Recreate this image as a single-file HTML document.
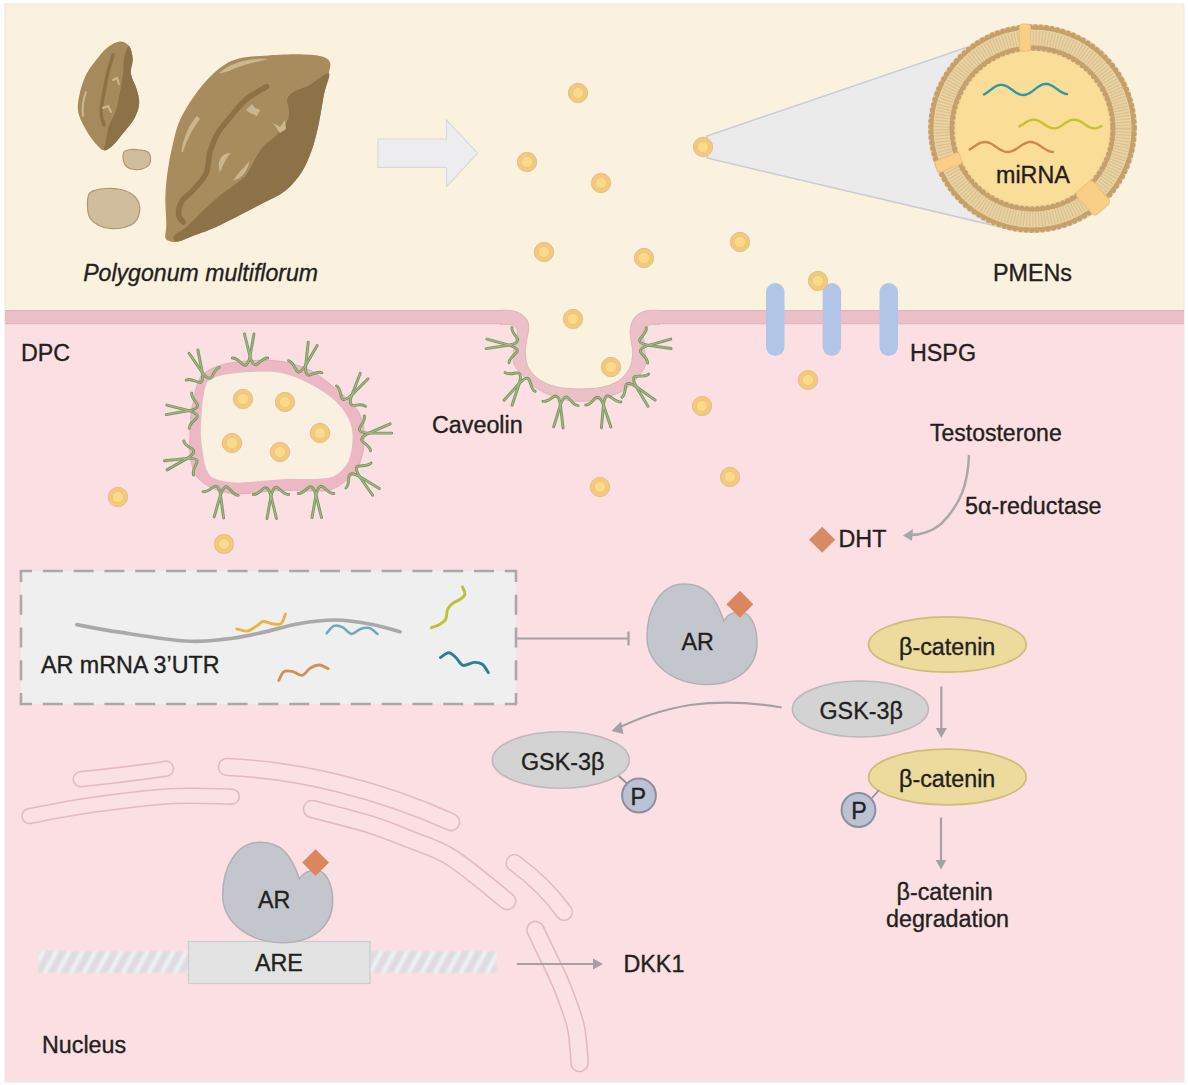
<!DOCTYPE html>
<html><head><meta charset="utf-8"><style>
html,body{margin:0;padding:0;background:#fff;}
svg{display:block;font-family:"Liberation Sans",sans-serif;}
text{stroke:#231F20;stroke-width:0.35px;}
</style></head><body>
<svg width="1188" height="1085" viewBox="0 0 1188 1085">
<rect x="0" y="0" width="1188" height="1085" fill="#ffffff"/>
<rect x="5" y="4" width="1179" height="314" fill="#FAF1DF"/>
<rect x="5" y="317" width="1179" height="765" fill="#FCDFE3"/>
<rect x="5" y="4" width="1179" height="1078" fill="none" stroke="#EDE6E3" stroke-width="1"/>
<path d="M171.1 241.5 C169.1 240.9 166.2 240.5 165.4 237.7 C164.6 234.9 166.3 231.4 166.3 224.5 C166.3 217.6 165.1 205.6 165.4 196.2 C165.7 186.8 166.6 177.9 168.2 167.8 C169.8 157.7 172.6 144.2 174.8 135.7 C177.0 127.2 178.5 123.1 181.5 116.8 C184.5 110.5 188.4 104.2 192.8 97.9 C197.2 91.6 202.9 84.3 207.9 79.0 C212.9 73.7 217.7 69.3 223.0 65.8 C228.3 62.3 232.4 59.9 240.0 58.2 C247.6 56.5 258.0 56.0 268.4 55.4 C278.8 54.8 293.6 54.2 302.4 54.4 C311.2 54.5 316.7 55.0 321.3 56.3 C325.9 57.6 328.6 59.2 329.8 62.0 C331.1 64.8 329.8 68.0 328.8 73.3 C327.9 78.6 325.8 85.6 324.1 94.1 C322.4 102.6 320.7 115.0 318.6 124.4 C316.5 133.9 314.4 142.8 311.5 150.8 C308.6 158.8 305.9 165.8 301.5 172.5 C297.1 179.2 291.4 185.9 285.0 191.0 C278.6 196.1 270.5 199.0 263.0 203.0 C255.5 207.0 247.6 211.2 240.0 215.1 C232.4 219.0 225.3 222.9 217.4 226.4 C209.5 229.9 199.4 233.4 192.8 235.9 C186.2 238.4 181.3 240.6 177.7 241.5 C174.1 242.4 173.1 242.1 171.1 241.5 Z" fill="#A98C5E"/>
<path d="M328.8 73.3 C326.4 71.7 316.0 81.5 310.0 84.7 C304.0 87.9 296.8 89.7 293.0 92.2 C289.2 94.7 287.9 96.3 287.3 99.8 C286.7 103.3 289.5 108.9 289.2 113.0 C288.9 117.1 287.9 120.3 285.4 124.4 C282.9 128.5 277.8 133.8 274.0 137.6 C270.2 141.4 266.1 142.9 262.7 147.0 C259.2 151.1 256.1 157.5 253.3 162.2 C250.5 166.9 248.8 171.6 245.7 175.4 C242.5 179.2 238.8 181.3 234.4 184.8 C230.0 188.3 224.6 191.8 219.2 196.2 C213.8 200.6 207.5 206.3 202.2 211.3 C196.8 216.3 191.8 222.3 187.1 226.4 C182.4 230.5 175.5 233.4 173.9 235.9 C172.3 238.4 174.5 241.5 177.7 241.5 C180.8 241.5 186.2 238.4 192.8 235.9 C199.4 233.4 209.5 229.9 217.4 226.4 C225.3 222.9 232.4 219.0 240.0 215.1 C247.6 211.2 255.5 207.0 263.0 203.0 C270.5 199.0 278.6 196.1 285.0 191.0 C291.4 185.9 297.1 179.2 301.5 172.5 C305.9 165.8 308.6 158.8 311.5 150.8 C314.4 142.8 316.5 133.9 318.6 124.4 C320.7 115.0 322.4 102.6 324.1 94.1 C325.8 85.6 331.2 74.9 328.8 73.3 Z" fill="#8E7247"/>
<path d="M266.5 86.6 C263.0 88.8 251.7 94.8 245.7 99.8 C239.7 104.8 235.3 111.1 230.6 116.8 C225.9 122.5 220.9 127.8 217.4 133.8 C213.9 139.8 211.7 146.1 209.8 152.7 C207.9 159.3 208.8 167.2 206.0 173.5 C203.2 179.8 196.9 185.8 192.8 190.5 C188.7 195.2 183.9 197.7 181.5 201.8 C179.1 205.9 178.3 211.7 178.6 215.1 C178.9 218.5 182.5 220.8 183.3 222.0" fill="none" stroke="#8E7247" stroke-width="5.5" stroke-linecap="round"/>
<path d="M219 73 C232 62 250 58 268 59 C258 62 245 64 236 68 C229 71 224 73 219 73 Z" fill="#CBB68F"/>
<path d="M197 117 C190 125 184 138 182 152 C186 140 192 128 199 119 Z" fill="#CBB68F" stroke="#CBB68F" stroke-width="1.5"/>
<path d="M246 110 L252 104 L255 108 L260 110 L257 116 L250 113 Z" fill="#CBB68F"/>
<path d="M273 123 L280 127 L285 120 L286 129 L280 133 Z" fill="#CBB68F"/>
<path d="M220 170 C218 162 222 154 229 154 C225 158 223 164 220 170 Z" fill="#CBB68F" stroke="#CBB68F" stroke-width="1.5"/>
<path d="M235 179 C240 172 244 168 248 164 C246 171 242 177 235 179 Z" fill="#CBB68F" stroke="#CBB68F" stroke-width="1.5"/>
<path d="M119.8 41.5 C123.5 41.2 126.8 43.2 129.0 46.1 C131.2 49.0 132.4 54.4 132.7 59.0 C133.0 63.6 130.3 68.8 130.9 73.7 C131.5 78.6 135.0 83.6 136.4 88.5 C137.8 93.4 139.5 98.3 139.2 103.2 C138.9 108.1 137.2 113.1 134.6 118.0 C132.0 122.9 127.2 128.1 123.5 132.7 C119.8 137.3 115.6 142.8 112.4 145.7 C109.2 148.6 106.5 150.3 104.1 150.3 C101.6 150.3 100.6 148.9 97.7 145.7 C94.8 142.5 89.8 136.4 86.6 130.9 C83.4 125.4 79.5 118.3 78.3 112.5 C77.1 106.7 78.1 101.8 79.2 95.9 C80.3 90.1 82.3 82.9 84.8 77.4 C87.3 71.9 90.3 67.6 94.0 62.7 C97.7 57.8 102.6 51.4 106.9 47.9 C111.2 44.4 116.1 41.8 119.8 41.5 Z" fill="#A68A5C"/>
<path d="M129.0 46.1 C130.4 46.3 132.4 54.4 132.7 59.0 C133.0 63.6 130.3 68.8 130.9 73.7 C131.5 78.6 135.0 83.6 136.4 88.5 C137.8 93.4 139.5 98.3 139.2 103.2 C138.9 108.1 137.2 113.1 134.6 118.0 C132.0 122.9 127.2 128.1 123.5 132.7 C119.8 137.3 115.6 142.8 112.4 145.7 C109.2 148.6 105.2 151.2 104.1 150.3 C103.0 149.4 105.2 144.1 106.0 140.0 C106.8 135.9 107.3 131.0 109.0 126.0 C110.7 121.0 114.2 115.7 116.0 110.0 C117.8 104.3 118.8 98.0 120.0 92.0 C121.2 86.0 122.3 79.7 123.0 74.0 C123.7 68.3 123.0 62.6 124.0 58.0 C125.0 53.4 127.5 45.9 129.0 46.1 Z" fill="#8E7247"/>
<path d="M113.0 55.0 C112.2 57.8 109.5 65.8 108.0 72.0 C106.5 78.2 105.2 85.3 104.0 92.0 C102.8 98.7 101.0 106.5 101.0 112.0 C101.0 117.5 103.5 122.8 104.0 125.0" fill="none" stroke="#8E7247" stroke-width="3.5" stroke-linecap="round"/>
<path d="M86 92 C83 100 82 108 83 116" fill="none" stroke="#CBB68F" stroke-width="2" stroke-linecap="round"/>
<path d="M113 80 L117 78 L119 84 M103 108 L108 106 L111 112" fill="none" stroke="#CBB68F" stroke-width="2" stroke-linecap="round"/>
<path d="M124.0 152.0 C125.2 150.1 128.3 149.8 131.0 149.5 C133.7 149.2 137.2 149.6 140.0 150.0 C142.8 150.4 146.2 150.7 148.0 152.0 C149.8 153.3 150.3 155.8 150.5 158.0 C150.7 160.2 150.4 163.2 149.0 165.0 C147.6 166.8 144.5 168.2 142.0 169.0 C139.5 169.8 136.5 169.8 134.0 169.5 C131.5 169.2 128.8 168.4 127.0 167.0 C125.2 165.6 124.0 163.5 123.5 161.0 C123.0 158.5 122.8 153.9 124.0 152.0 Z" fill="#CFBD9C" stroke="#AE9774" stroke-width="1.2"/>
<path d="M89.0 194.0 C90.4 191.2 93.2 190.9 96.0 190.0 C98.8 189.1 102.3 188.7 106.0 188.5 C109.7 188.3 114.0 188.2 118.0 189.0 C122.0 189.8 126.7 191.0 130.0 193.0 C133.3 195.0 136.4 197.8 138.0 201.0 C139.6 204.2 140.0 208.5 139.5 212.0 C139.0 215.5 137.6 219.4 135.0 222.0 C132.4 224.6 128.2 226.4 124.0 227.5 C119.8 228.6 114.3 228.9 110.0 228.5 C105.7 228.1 101.3 226.8 98.0 225.0 C94.7 223.2 91.8 221.0 90.0 218.0 C88.2 215.0 87.7 211.0 87.5 207.0 C87.3 203.0 87.6 196.8 89.0 194.0 Z" fill="#CFBD9C" stroke="#AE9774" stroke-width="1.2"/>
<path d="M378 139 H446.5 V120 L477.7 153.2 L446.5 186.5 V167.4 H378 Z" fill="#EDEDEF" stroke="#D9D9DA" stroke-width="1.2"/>
<path d="M707 136 L1000 36 L1020 231.6 L707 158 Z" fill="#ECEBEC" stroke="#C9CCD6" stroke-width="1.5"/>
<circle cx="1032.5" cy="128.5" r="104.5" fill="#E9D2A3"/>
<circle cx="1032.5" cy="128.5" r="90.5" fill="none" stroke="#DCC08E" stroke-width="15" stroke-dasharray="1.2 1.8"/>
<circle cx="1032.5" cy="128.5" r="100.8" fill="none" stroke="#C8A36C" stroke-width="3.5"/>
<circle cx="1032.5" cy="128.5" r="101.8" fill="none" stroke="#C6A06A" stroke-width="5.2" stroke-dasharray="0 5.54" stroke-linecap="round"/>
<circle cx="1032.5" cy="128.5" r="81.2" fill="none" stroke="#C8A36C" stroke-width="3.5"/>
<circle cx="1032.5" cy="128.5" r="80.3" fill="none" stroke="#C6A06A" stroke-width="5.2" stroke-dasharray="0 5.26" stroke-linecap="round"/>
<circle cx="1032.5" cy="128.5" r="77.3" fill="#FADD97"/>
<rect x="1019.5" y="24" width="11" height="27" rx="3" fill="#F9CF88" stroke="#EEC07A" stroke-width="1"/>
<g transform="translate(948.5 162.5) rotate(-22)"><rect x="-13" y="-6" width="26" height="12" rx="3" fill="#F9CF88" stroke="#EEC07A" stroke-width="1"/></g>
<g transform="translate(1093 198) rotate(49)"><rect x="-15" y="-11" width="30" height="22" rx="4" fill="#F9CF88" stroke="#EEC07A" stroke-width="1"/></g>
<path d="M983.9 94.5 L985.6 93.5 L987.2 92.4 L988.9 91.2 L990.5 89.9 L992.2 88.7 L993.9 87.5 L995.5 86.5 L997.2 85.7 L998.9 85.2 L1000.5 84.9 L1002.2 84.9 L1003.8 85.2 L1005.5 85.8 L1007.2 86.5 L1008.8 87.5 L1010.5 88.7 L1012.2 89.8 L1013.8 91.0 L1015.5 92.2 L1017.1 93.2 L1018.8 94.0 L1020.5 94.6 L1022.1 94.9 L1023.8 95.0 L1025.5 94.8 L1027.1 94.2 L1028.8 93.5 L1030.4 92.5 L1032.1 91.4 L1033.8 90.1 L1035.4 88.9 L1037.1 87.6 L1038.7 86.5 L1040.4 85.5 L1042.1 84.7 L1043.7 84.2 L1045.4 84.0 L1047.1 84.0 L1048.7 84.3 L1050.4 84.9 L1052.0 85.7 L1053.7 86.8 L1055.4 87.9 L1057.0 89.1 L1058.7 90.3 L1060.4 91.4 L1062.0 92.4 L1063.7 93.2 L1065.3 93.8 L1067.0 94.1" fill="none" stroke="#2E97A8" stroke-width="2.4" stroke-linecap="round" stroke-linejoin="round"/>
<path d="M1019.4 126.6 L1021.0 125.6 L1022.7 124.5 L1024.3 123.4 L1026.0 122.3 L1027.6 121.4 L1029.3 120.6 L1030.9 120.0 L1032.5 119.7 L1034.2 119.6 L1035.8 119.9 L1037.5 120.4 L1039.1 121.1 L1040.7 122.0 L1042.4 123.1 L1044.0 124.2 L1045.7 125.3 L1047.3 126.3 L1049.0 127.2 L1050.6 127.8 L1052.2 128.3 L1053.9 128.4 L1055.5 128.3 L1057.2 127.8 L1058.8 127.2 L1060.5 126.3 L1062.1 125.3 L1063.7 124.2 L1065.4 123.1 L1067.0 122.0 L1068.7 121.1 L1070.3 120.4 L1071.9 119.9 L1073.6 119.6 L1075.2 119.7 L1076.9 120.0 L1078.5 120.5 L1080.2 121.3 L1081.8 122.3 L1083.4 123.4 L1085.1 124.5 L1086.7 125.6 L1088.4 126.6 L1090.0 127.4 L1091.6 128.0 L1093.3 128.3 L1094.9 128.4 L1096.6 128.2 L1098.2 127.7 L1099.9 127.0 L1101.5 126.1" fill="none" stroke="#C5C32F" stroke-width="2.4" stroke-linecap="round" stroke-linejoin="round"/>
<path d="M969.7 149.5 L971.4 148.5 L973.0 147.3 L974.7 146.2 L976.4 145.1 L978.0 144.1 L979.7 143.2 L981.3 142.6 L983.0 142.2 L984.7 142.0 L986.3 142.1 L988.0 142.5 L989.7 143.0 L991.3 143.8 L993.0 144.8 L994.7 145.9 L996.3 147.0 L998.0 148.2 L999.7 149.2 L1001.3 150.2 L1003.0 151.0 L1004.6 151.6 L1006.3 151.9 L1008.0 152.0 L1009.6 151.8 L1011.3 151.4 L1013.0 150.7 L1014.6 149.9 L1016.3 148.9 L1018.0 147.8 L1019.6 146.6 L1021.3 145.5 L1022.9 144.5 L1024.6 143.6 L1026.3 142.8 L1027.9 142.3 L1029.6 142.0 L1031.3 142.0 L1032.9 142.3 L1034.6 142.8 L1036.3 143.5 L1037.9 144.4 L1039.6 145.4 L1041.3 146.6 L1042.9 147.7 L1044.6 148.8 L1046.2 149.8 L1047.9 150.7 L1049.6 151.4 L1051.2 151.8 L1052.9 152.0" fill="none" stroke="#D08848" stroke-width="2.4" stroke-linecap="round" stroke-linejoin="round"/>
<text x="996" y="183" font-size="23.3" fill="#231F20">miRNA</text>
<circle cx="578" cy="93" r="9.7" fill="#F3C980" stroke="#E3C08A" stroke-width="1"/><circle cx="578" cy="93" r="5.6" fill="#FBDA8A" stroke="#EFC575" stroke-width="0.9"/>
<circle cx="527" cy="162" r="9.7" fill="#F3C980" stroke="#E3C08A" stroke-width="1"/><circle cx="527" cy="162" r="5.6" fill="#FBDA8A" stroke="#EFC575" stroke-width="0.9"/>
<circle cx="601" cy="183" r="9.7" fill="#F3C980" stroke="#E3C08A" stroke-width="1"/><circle cx="601" cy="183" r="5.6" fill="#FBDA8A" stroke="#EFC575" stroke-width="0.9"/>
<circle cx="703" cy="147" r="9.7" fill="#F3C980" stroke="#E3C08A" stroke-width="1"/><circle cx="703" cy="147" r="5.6" fill="#FBDA8A" stroke="#EFC575" stroke-width="0.9"/>
<circle cx="544" cy="252" r="9.7" fill="#F3C980" stroke="#E3C08A" stroke-width="1"/><circle cx="544" cy="252" r="5.6" fill="#FBDA8A" stroke="#EFC575" stroke-width="0.9"/>
<circle cx="644" cy="258" r="9.7" fill="#F3C980" stroke="#E3C08A" stroke-width="1"/><circle cx="644" cy="258" r="5.6" fill="#FBDA8A" stroke="#EFC575" stroke-width="0.9"/>
<circle cx="740" cy="242" r="9.7" fill="#F3C980" stroke="#E3C08A" stroke-width="1"/><circle cx="740" cy="242" r="5.6" fill="#FBDA8A" stroke="#EFC575" stroke-width="0.9"/>
<text x="83.2" y="281" font-size="23.1" font-style="italic" fill="#231F20">Polygonum multiflorum</text>
<text x="993" y="280.5" font-size="23.3" fill="#231F20">PMENs</text>
<path d="M500.0 310.3 C501.8 310.4 507.5 310.0 511.0 310.6 C514.5 311.2 518.2 312.3 521.0 314.0 C523.8 315.7 526.2 318.3 527.5 321.0 C528.8 323.7 528.7 326.7 528.5 330.0 C528.3 333.3 527.0 337.0 526.5 341.0 C526.0 345.0 525.2 349.6 525.5 354.0 C525.8 358.4 526.0 363.1 528.3 367.3 C530.5 371.6 534.3 376.2 539.0 379.5 C543.7 382.8 550.1 385.3 556.6 386.9 C563.1 388.5 570.6 388.8 578.0 388.9 C585.4 389.0 594.2 388.9 601.0 387.5 C607.8 386.1 613.8 383.9 618.5 380.8 C623.2 377.7 626.9 373.2 629.3 368.7 C631.7 364.2 632.4 358.5 632.7 353.9 C633.0 349.3 631.6 344.8 631.2 341.0 C630.8 337.2 630.0 334.3 630.2 331.0 C630.4 327.7 631.1 323.8 632.5 321.0 C633.9 318.2 635.9 315.7 638.5 314.0 C641.1 312.3 644.4 311.2 648.0 310.6 C651.6 310.0 658.0 310.4 660.0 310.3 L660 305 L500 305 Z" fill="#FAF1DF"/>
<path d="M5 317 H502 M658 317 H1184" fill="none" stroke="#EBC0C7" stroke-width="14"/>
<path d="M500.0 310.3 C501.8 310.4 507.5 310.0 511.0 310.6 C514.5 311.2 518.2 312.3 521.0 314.0 C523.8 315.7 526.2 318.3 527.5 321.0 C528.8 323.7 528.7 326.7 528.5 330.0 C528.3 333.3 527.0 337.0 526.5 341.0 C526.0 345.0 525.2 349.6 525.5 354.0 C525.8 358.4 526.0 363.1 528.3 367.3 C530.5 371.6 534.3 376.2 539.0 379.5 C543.7 382.8 550.1 385.3 556.6 386.9 C563.1 388.5 570.6 388.8 578.0 388.9 C585.4 389.0 594.2 388.9 601.0 387.5 C607.8 386.1 613.8 383.9 618.5 380.8 C623.2 377.7 626.9 373.2 629.3 368.7 C631.7 364.2 632.4 358.5 632.7 353.9 C633.0 349.3 631.6 344.8 631.2 341.0 C630.8 337.2 630.0 334.3 630.2 331.0 C630.4 327.7 631.1 323.8 632.5 321.0 C633.9 318.2 635.9 315.7 638.5 314.0 C641.1 312.3 644.4 311.2 648.0 310.6 C651.6 310.0 658.0 310.4 660.0 310.3 L660.0 324.3 C658.2 324.4 651.8 323.9 649.0 325.0 C646.2 326.1 644.2 327.3 643.5 331.0 C642.8 334.7 644.2 341.5 644.5 347.1 C644.8 352.7 646.9 359.2 645.5 364.6 C644.1 370.0 640.0 375.0 636.0 379.5 C632.0 384.0 626.8 388.5 621.2 391.6 C615.6 394.7 609.1 396.7 602.4 398.3 C595.7 399.9 588.0 401.5 580.8 401.5 C573.6 401.5 566.5 400.4 559.3 398.3 C552.1 396.2 543.8 392.7 537.7 388.9 C531.6 385.1 526.8 379.4 522.9 375.4 C519.0 371.3 515.9 368.2 514.3 364.6 C512.7 361.0 513.0 357.9 513.2 353.9 C513.4 349.9 514.8 344.2 515.5 340.4 C516.2 336.6 518.0 333.6 517.5 331.0 C517.0 328.4 515.7 326.1 512.8 325.0 C509.9 323.9 502.1 324.4 500.0 324.3 Z" fill="#EBC0C7"/>
<path d="M5 310.6 H502 M658 310.6 H1184 M5 323.6 H502 M658 323.6 H1184" fill="none" stroke="#E0B6BB" stroke-width="1.1"/>
<path d="M500.0 310.3 C501.8 310.4 507.5 310.0 511.0 310.6 C514.5 311.2 518.2 312.3 521.0 314.0 C523.8 315.7 526.2 318.3 527.5 321.0 C528.8 323.7 528.7 326.7 528.5 330.0 C528.3 333.3 527.0 337.0 526.5 341.0 C526.0 345.0 525.2 349.6 525.5 354.0 C525.8 358.4 526.0 363.1 528.3 367.3 C530.5 371.6 534.3 376.2 539.0 379.5 C543.7 382.8 550.1 385.3 556.6 386.9 C563.1 388.5 570.6 388.8 578.0 388.9 C585.4 389.0 594.2 388.9 601.0 387.5 C607.8 386.1 613.8 383.9 618.5 380.8 C623.2 377.7 626.9 373.2 629.3 368.7 C631.7 364.2 632.4 358.5 632.7 353.9 C633.0 349.3 631.6 344.8 631.2 341.0 C630.8 337.2 630.0 334.3 630.2 331.0 C630.4 327.7 631.1 323.8 632.5 321.0 C633.9 318.2 635.9 315.7 638.5 314.0 C641.1 312.3 644.4 311.2 648.0 310.6 C651.6 310.0 658.0 310.4 660.0 310.3" fill="none" stroke="#E0B6BB" stroke-width="1"/><path d="M660.0 324.3 C658.2 324.4 651.8 323.9 649.0 325.0 C646.2 326.1 644.2 327.3 643.5 331.0 C642.8 334.7 644.2 341.5 644.5 347.1 C644.8 352.7 646.9 359.2 645.5 364.6 C644.1 370.0 640.0 375.0 636.0 379.5 C632.0 384.0 626.8 388.5 621.2 391.6 C615.6 394.7 609.1 396.7 602.4 398.3 C595.7 399.9 588.0 401.5 580.8 401.5 C573.6 401.5 566.5 400.4 559.3 398.3 C552.1 396.2 543.8 392.7 537.7 388.9 C531.6 385.1 526.8 379.4 522.9 375.4 C519.0 371.3 515.9 368.2 514.3 364.6 C512.7 361.0 513.0 357.9 513.2 353.9 C513.4 349.9 514.8 344.2 515.5 340.4 C516.2 336.6 518.0 333.6 517.5 331.0 C517.0 328.4 515.7 326.1 512.8 325.0 C509.9 323.9 502.1 324.4 500.0 324.3" fill="none" stroke="#E2B4BC" stroke-width="1"/>
<circle cx="573" cy="319" r="9.7" fill="#F3C980" stroke="#E3C08A" stroke-width="1"/><circle cx="573" cy="319" r="5.6" fill="#FBDA8A" stroke="#EFC575" stroke-width="0.9"/>
<circle cx="611" cy="367" r="9.7" fill="#F3C980" stroke="#E3C08A" stroke-width="1"/><circle cx="611" cy="367" r="5.6" fill="#FBDA8A" stroke="#EFC575" stroke-width="0.9"/>
<rect x="766" y="283" width="18.5" height="73" rx="9.25" fill="#B3C5E6"/>
<rect x="822.6" y="283" width="18.5" height="73" rx="9.25" fill="#B3C5E6"/>
<rect x="879.5" y="283" width="18.5" height="73" rx="9.25" fill="#B3C5E6"/>
<circle cx="818" cy="281" r="9.7" fill="#F3C980" stroke="#E3C08A" stroke-width="1"/><circle cx="818" cy="281" r="5.6" fill="#FBDA8A" stroke="#EFC575" stroke-width="0.9"/>
<circle cx="808" cy="380" r="9.7" fill="#F3C980" stroke="#E3C08A" stroke-width="1"/><circle cx="808" cy="380" r="5.6" fill="#FBDA8A" stroke="#EFC575" stroke-width="0.9"/>
<circle cx="702" cy="406" r="9.7" fill="#F3C980" stroke="#E3C08A" stroke-width="1"/><circle cx="702" cy="406" r="5.6" fill="#FBDA8A" stroke="#EFC575" stroke-width="0.9"/>
<circle cx="600" cy="487" r="9.7" fill="#F3C980" stroke="#E3C08A" stroke-width="1"/><circle cx="600" cy="487" r="5.6" fill="#FBDA8A" stroke="#EFC575" stroke-width="0.9"/>
<circle cx="730" cy="477" r="9.7" fill="#F3C980" stroke="#E3C08A" stroke-width="1"/><circle cx="730" cy="477" r="5.6" fill="#FBDA8A" stroke="#EFC575" stroke-width="0.9"/>
<circle cx="118" cy="497" r="9.7" fill="#F3C980" stroke="#E3C08A" stroke-width="1"/><circle cx="118" cy="497" r="5.6" fill="#FBDA8A" stroke="#EFC575" stroke-width="0.9"/>
<circle cx="224" cy="544" r="9.7" fill="#F3C980" stroke="#E3C08A" stroke-width="1"/><circle cx="224" cy="544" r="5.6" fill="#FBDA8A" stroke="#EFC575" stroke-width="0.9"/>
<path d="M201 376 C210 368 218 366 225 364 C245 360 262 360 275 360.7 C290 362 300 366 310 370 C322 377 330 384 339 391.6 C348 399 354 405 358 411 C362 418 364 425 364 432 C364 442 364 450 362 455.5 C360 465 356 472 350.5 476.8 C343 484 336 488 329 490.4 C315 492 300 490 281 490.4 C265 491 250 494 236 494 C225 493 215 490 209 486.5 C200 481 195 476 193.7 471 C190 460 189 448 190 436 C190 420 191 410 193.7 401 C195 390 198 381 201 376 Z" fill="#EBB8C3" stroke="#E2ADBA" stroke-width="1"/>
<path d="M207 382 C214 377 220 375 228.6 374 C245 372 262 371 275 372 C288 374 298 378 306 382 C318 388 326 393 333 399 C340 405 345 412 348.6 418.7 C352 426 353 433 352.5 440 C352 448 351 455 348.6 461 C345 468 340 473 333 476.8 C322 480 305 479 290.5 478.8 C275 479 258 482 242 482.6 C230 483 218 481 211 476.8 C206 471 204 463 203.4 455.5 C201 443 200 430 201.5 416.8 C202 403 204 390 207 382 Z" fill="#FAF0E2"/>
<circle cx="243" cy="399" r="9.7" fill="#F3C980" stroke="#E3C08A" stroke-width="1"/><circle cx="243" cy="399" r="5.6" fill="#FBDA8A" stroke="#EFC575" stroke-width="0.9"/>
<circle cx="285" cy="402" r="9.7" fill="#F3C980" stroke="#E3C08A" stroke-width="1"/><circle cx="285" cy="402" r="5.6" fill="#FBDA8A" stroke="#EFC575" stroke-width="0.9"/>
<circle cx="232" cy="443" r="9.7" fill="#F3C980" stroke="#E3C08A" stroke-width="1"/><circle cx="232" cy="443" r="5.6" fill="#FBDA8A" stroke="#EFC575" stroke-width="0.9"/>
<circle cx="280" cy="452" r="9.7" fill="#F3C980" stroke="#E3C08A" stroke-width="1"/><circle cx="280" cy="452" r="5.6" fill="#FBDA8A" stroke="#EFC575" stroke-width="0.9"/>
<circle cx="320" cy="433" r="9.7" fill="#F3C980" stroke="#E3C08A" stroke-width="1"/><circle cx="320" cy="433" r="5.6" fill="#FBDA8A" stroke="#EFC575" stroke-width="0.9"/>
<g transform="translate(250 361.5) rotate(0) scale(1.0)" fill="none" stroke-linecap="round"><path d="M-17.7 -3.5 C-12 -4 -8 4 -5 3.8 C-2 3.6 -1 -1 0 -5 L4 -27.5" stroke="#7B9264" stroke-width="2.9"/><path d="M17.7 -3.5 C12 -4 8 4 5.5 3.3 C3 3 1 -1 0 -5 L-5.5 -27.5" stroke="#7B9264" stroke-width="2.9"/><path d="M-17.7 -3.5 C-12 -4 -8 4 -5 3.8 C-2 3.6 -1 -1 0 -5 L4 -27.5" stroke="#9DC080" stroke-width="1.1"/><path d="M17.7 -3.5 C12 -4 8 4 5.5 3.3 C3 3 1 -1 0 -5 L-5.5 -27.5" stroke="#9DC080" stroke-width="1.1"/></g>
<g transform="translate(204 377) rotate(-21) scale(1.0)" fill="none" stroke-linecap="round"><path d="M-17.7 -3.5 C-12 -4 -8 4 -5 3.8 C-2 3.6 -1 -1 0 -5 L4 -27.5" stroke="#7B9264" stroke-width="2.9"/><path d="M17.7 -3.5 C12 -4 8 4 5.5 3.3 C3 3 1 -1 0 -5 L-5.5 -27.5" stroke="#7B9264" stroke-width="2.9"/><path d="M-17.7 -3.5 C-12 -4 -8 4 -5 3.8 C-2 3.6 -1 -1 0 -5 L4 -27.5" stroke="#9DC080" stroke-width="1.1"/><path d="M17.7 -3.5 C12 -4 8 4 5.5 3.3 C3 3 1 -1 0 -5 L-5.5 -27.5" stroke="#9DC080" stroke-width="1.1"/></g>
<g transform="translate(304 370) rotate(20) scale(1.0)" fill="none" stroke-linecap="round"><path d="M-17.7 -3.5 C-12 -4 -8 4 -5 3.8 C-2 3.6 -1 -1 0 -5 L4 -27.5" stroke="#7B9264" stroke-width="2.9"/><path d="M17.7 -3.5 C12 -4 8 4 5.5 3.3 C3 3 1 -1 0 -5 L-5.5 -27.5" stroke="#7B9264" stroke-width="2.9"/><path d="M-17.7 -3.5 C-12 -4 -8 4 -5 3.8 C-2 3.6 -1 -1 0 -5 L4 -27.5" stroke="#9DC080" stroke-width="1.1"/><path d="M17.7 -3.5 C12 -4 8 4 5.5 3.3 C3 3 1 -1 0 -5 L-5.5 -27.5" stroke="#9DC080" stroke-width="1.1"/></g>
<g transform="translate(349 399) rotate(35) scale(1.0)" fill="none" stroke-linecap="round"><path d="M-17.7 -3.5 C-12 -4 -8 4 -5 3.8 C-2 3.6 -1 -1 0 -5 L4 -27.5" stroke="#7B9264" stroke-width="2.9"/><path d="M17.7 -3.5 C12 -4 8 4 5.5 3.3 C3 3 1 -1 0 -5 L-5.5 -27.5" stroke="#7B9264" stroke-width="2.9"/><path d="M-17.7 -3.5 C-12 -4 -8 4 -5 3.8 C-2 3.6 -1 -1 0 -5 L4 -27.5" stroke="#9DC080" stroke-width="1.1"/><path d="M17.7 -3.5 C12 -4 8 4 5.5 3.3 C3 3 1 -1 0 -5 L-5.5 -27.5" stroke="#9DC080" stroke-width="1.1"/></g>
<g transform="translate(364 434) rotate(80) scale(1.0)" fill="none" stroke-linecap="round"><path d="M-17.7 -3.5 C-12 -4 -8 4 -5 3.8 C-2 3.6 -1 -1 0 -5 L4 -27.5" stroke="#7B9264" stroke-width="2.9"/><path d="M17.7 -3.5 C12 -4 8 4 5.5 3.3 C3 3 1 -1 0 -5 L-5.5 -27.5" stroke="#7B9264" stroke-width="2.9"/><path d="M-17.7 -3.5 C-12 -4 -8 4 -5 3.8 C-2 3.6 -1 -1 0 -5 L4 -27.5" stroke="#9DC080" stroke-width="1.1"/><path d="M17.7 -3.5 C12 -4 8 4 5.5 3.3 C3 3 1 -1 0 -5 L-5.5 -27.5" stroke="#9DC080" stroke-width="1.1"/></g>
<g transform="translate(356 473) rotate(135) scale(1.0)" fill="none" stroke-linecap="round"><path d="M-17.7 -3.5 C-12 -4 -8 4 -5 3.8 C-2 3.6 -1 -1 0 -5 L4 -27.5" stroke="#7B9264" stroke-width="2.9"/><path d="M17.7 -3.5 C12 -4 8 4 5.5 3.3 C3 3 1 -1 0 -5 L-5.5 -27.5" stroke="#7B9264" stroke-width="2.9"/><path d="M-17.7 -3.5 C-12 -4 -8 4 -5 3.8 C-2 3.6 -1 -1 0 -5 L4 -27.5" stroke="#9DC080" stroke-width="1.1"/><path d="M17.7 -3.5 C12 -4 8 4 5.5 3.3 C3 3 1 -1 0 -5 L-5.5 -27.5" stroke="#9DC080" stroke-width="1.1"/></g>
<g transform="translate(316 490) rotate(180) scale(1.0)" fill="none" stroke-linecap="round"><path d="M-17.7 -3.5 C-12 -4 -8 4 -5 3.8 C-2 3.6 -1 -1 0 -5 L4 -27.5" stroke="#7B9264" stroke-width="2.9"/><path d="M17.7 -3.5 C12 -4 8 4 5.5 3.3 C3 3 1 -1 0 -5 L-5.5 -27.5" stroke="#7B9264" stroke-width="2.9"/><path d="M-17.7 -3.5 C-12 -4 -8 4 -5 3.8 C-2 3.6 -1 -1 0 -5 L4 -27.5" stroke="#9DC080" stroke-width="1.1"/><path d="M17.7 -3.5 C12 -4 8 4 5.5 3.3 C3 3 1 -1 0 -5 L-5.5 -27.5" stroke="#9DC080" stroke-width="1.1"/></g>
<g transform="translate(271 491) rotate(180) scale(1.0)" fill="none" stroke-linecap="round"><path d="M-17.7 -3.5 C-12 -4 -8 4 -5 3.8 C-2 3.6 -1 -1 0 -5 L4 -27.5" stroke="#7B9264" stroke-width="2.9"/><path d="M17.7 -3.5 C12 -4 8 4 5.5 3.3 C3 3 1 -1 0 -5 L-5.5 -27.5" stroke="#7B9264" stroke-width="2.9"/><path d="M-17.7 -3.5 C-12 -4 -8 4 -5 3.8 C-2 3.6 -1 -1 0 -5 L4 -27.5" stroke="#9DC080" stroke-width="1.1"/><path d="M17.7 -3.5 C12 -4 8 4 5.5 3.3 C3 3 1 -1 0 -5 L-5.5 -27.5" stroke="#9DC080" stroke-width="1.1"/></g>
<g transform="translate(221 490) rotate(-174) scale(1.0)" fill="none" stroke-linecap="round"><path d="M-17.7 -3.5 C-12 -4 -8 4 -5 3.8 C-2 3.6 -1 -1 0 -5 L4 -27.5" stroke="#7B9264" stroke-width="2.9"/><path d="M17.7 -3.5 C12 -4 8 4 5.5 3.3 C3 3 1 -1 0 -5 L-5.5 -27.5" stroke="#7B9264" stroke-width="2.9"/><path d="M-17.7 -3.5 C-12 -4 -8 4 -5 3.8 C-2 3.6 -1 -1 0 -5 L4 -27.5" stroke="#9DC080" stroke-width="1.1"/><path d="M17.7 -3.5 C12 -4 8 4 5.5 3.3 C3 3 1 -1 0 -5 L-5.5 -27.5" stroke="#9DC080" stroke-width="1.1"/></g>
<g transform="translate(192 457) rotate(-106) scale(1.0)" fill="none" stroke-linecap="round"><path d="M-17.7 -3.5 C-12 -4 -8 4 -5 3.8 C-2 3.6 -1 -1 0 -5 L4 -27.5" stroke="#7B9264" stroke-width="2.9"/><path d="M17.7 -3.5 C12 -4 8 4 5.5 3.3 C3 3 1 -1 0 -5 L-5.5 -27.5" stroke="#7B9264" stroke-width="2.9"/><path d="M-17.7 -3.5 C-12 -4 -8 4 -5 3.8 C-2 3.6 -1 -1 0 -5 L4 -27.5" stroke="#9DC080" stroke-width="1.1"/><path d="M17.7 -3.5 C12 -4 8 4 5.5 3.3 C3 3 1 -1 0 -5 L-5.5 -27.5" stroke="#9DC080" stroke-width="1.1"/></g>
<g transform="translate(194 411) rotate(-86) scale(1.0)" fill="none" stroke-linecap="round"><path d="M-17.7 -3.5 C-12 -4 -8 4 -5 3.8 C-2 3.6 -1 -1 0 -5 L4 -27.5" stroke="#7B9264" stroke-width="2.9"/><path d="M17.7 -3.5 C12 -4 8 4 5.5 3.3 C3 3 1 -1 0 -5 L-5.5 -27.5" stroke="#7B9264" stroke-width="2.9"/><path d="M-17.7 -3.5 C-12 -4 -8 4 -5 3.8 C-2 3.6 -1 -1 0 -5 L4 -27.5" stroke="#9DC080" stroke-width="1.1"/><path d="M17.7 -3.5 C12 -4 8 4 5.5 3.3 C3 3 1 -1 0 -5 L-5.5 -27.5" stroke="#9DC080" stroke-width="1.1"/></g>
<g transform="translate(514 345.5) rotate(-85) scale(1.0)" fill="none" stroke-linecap="round"><path d="M-17.7 -3.5 C-12 -4 -8 4 -5 3.8 C-2 3.6 -1 -1 0 -5 L4 -27.5" stroke="#7B9264" stroke-width="2.9"/><path d="M17.7 -3.5 C12 -4 8 4 5.5 3.3 C3 3 1 -1 0 -5 L-5.5 -27.5" stroke="#7B9264" stroke-width="2.9"/><path d="M-17.7 -3.5 C-12 -4 -8 4 -5 3.8 C-2 3.6 -1 -1 0 -5 L4 -27.5" stroke="#9DC080" stroke-width="1.1"/><path d="M17.7 -3.5 C12 -4 8 4 5.5 3.3 C3 3 1 -1 0 -5 L-5.5 -27.5" stroke="#9DC080" stroke-width="1.1"/></g>
<g transform="translate(522 379) rotate(-148) scale(1.0)" fill="none" stroke-linecap="round"><path d="M-17.7 -3.5 C-12 -4 -8 4 -5 3.8 C-2 3.6 -1 -1 0 -5 L4 -27.5" stroke="#7B9264" stroke-width="2.9"/><path d="M17.7 -3.5 C12 -4 8 4 5.5 3.3 C3 3 1 -1 0 -5 L-5.5 -27.5" stroke="#7B9264" stroke-width="2.9"/><path d="M-17.7 -3.5 C-12 -4 -8 4 -5 3.8 C-2 3.6 -1 -1 0 -5 L4 -27.5" stroke="#9DC080" stroke-width="1.1"/><path d="M17.7 -3.5 C12 -4 8 4 5.5 3.3 C3 3 1 -1 0 -5 L-5.5 -27.5" stroke="#9DC080" stroke-width="1.1"/></g>
<g transform="translate(561 400) rotate(-173) scale(1.0)" fill="none" stroke-linecap="round"><path d="M-17.7 -3.5 C-12 -4 -8 4 -5 3.8 C-2 3.6 -1 -1 0 -5 L4 -27.5" stroke="#7B9264" stroke-width="2.9"/><path d="M17.7 -3.5 C12 -4 8 4 5.5 3.3 C3 3 1 -1 0 -5 L-5.5 -27.5" stroke="#7B9264" stroke-width="2.9"/><path d="M-17.7 -3.5 C-12 -4 -8 4 -5 3.8 C-2 3.6 -1 -1 0 -5 L4 -27.5" stroke="#9DC080" stroke-width="1.1"/><path d="M17.7 -3.5 C12 -4 8 4 5.5 3.3 C3 3 1 -1 0 -5 L-5.5 -27.5" stroke="#9DC080" stroke-width="1.1"/></g>
<g transform="translate(603 400) rotate(175) scale(1.0)" fill="none" stroke-linecap="round"><path d="M-17.7 -3.5 C-12 -4 -8 4 -5 3.8 C-2 3.6 -1 -1 0 -5 L4 -27.5" stroke="#7B9264" stroke-width="2.9"/><path d="M17.7 -3.5 C12 -4 8 4 5.5 3.3 C3 3 1 -1 0 -5 L-5.5 -27.5" stroke="#7B9264" stroke-width="2.9"/><path d="M-17.7 -3.5 C-12 -4 -8 4 -5 3.8 C-2 3.6 -1 -1 0 -5 L4 -27.5" stroke="#9DC080" stroke-width="1.1"/><path d="M17.7 -3.5 C12 -4 8 4 5.5 3.3 C3 3 1 -1 0 -5 L-5.5 -27.5" stroke="#9DC080" stroke-width="1.1"/></g>
<g transform="translate(633 383) rotate(139) scale(1.0)" fill="none" stroke-linecap="round"><path d="M-17.7 -3.5 C-12 -4 -8 4 -5 3.8 C-2 3.6 -1 -1 0 -5 L4 -27.5" stroke="#7B9264" stroke-width="2.9"/><path d="M17.7 -3.5 C12 -4 8 4 5.5 3.3 C3 3 1 -1 0 -5 L-5.5 -27.5" stroke="#7B9264" stroke-width="2.9"/><path d="M-17.7 -3.5 C-12 -4 -8 4 -5 3.8 C-2 3.6 -1 -1 0 -5 L4 -27.5" stroke="#9DC080" stroke-width="1.1"/><path d="M17.7 -3.5 C12 -4 8 4 5.5 3.3 C3 3 1 -1 0 -5 L-5.5 -27.5" stroke="#9DC080" stroke-width="1.1"/></g>
<g transform="translate(643.5 345.5) rotate(88) scale(1.0)" fill="none" stroke-linecap="round"><path d="M-17.7 -3.5 C-12 -4 -8 4 -5 3.8 C-2 3.6 -1 -1 0 -5 L4 -27.5" stroke="#7B9264" stroke-width="2.9"/><path d="M17.7 -3.5 C12 -4 8 4 5.5 3.3 C3 3 1 -1 0 -5 L-5.5 -27.5" stroke="#7B9264" stroke-width="2.9"/><path d="M-17.7 -3.5 C-12 -4 -8 4 -5 3.8 C-2 3.6 -1 -1 0 -5 L4 -27.5" stroke="#9DC080" stroke-width="1.1"/><path d="M17.7 -3.5 C12 -4 8 4 5.5 3.3 C3 3 1 -1 0 -5 L-5.5 -27.5" stroke="#9DC080" stroke-width="1.1"/></g>
<text x="21" y="361" font-size="23.3" fill="#231F20">DPC</text>
<text x="910" y="360.5" font-size="23.3" fill="#231F20">HSPG</text>
<text x="432" y="433" font-size="23.3" fill="#231F20">Caveolin</text>
<text x="930" y="441" font-size="23" fill="#231F20">Testosterone</text>
<text x="965" y="513.5" font-size="23.3" fill="#231F20">5α-reductase</text>
<text x="838.5" y="547" font-size="23.3" fill="#231F20">DHT</text>
<rect x="813" y="530.5" width="18.5" height="18.5" fill="#D98A63" transform="rotate(45 822.2 539.7)"/>
<path d="M969 455 C968 485 960 505 941 524 C930 533 920 535 910 535" fill="none" stroke="#A9A8A9" stroke-width="2.5"/>
<path d="M903 535.5 L913 529 L912 541 Z" fill="#A9A8A9"/>
<rect x="21" y="571" width="495" height="133" fill="#EFEFEF"/>
<g fill="none" stroke="#ABA7AA" stroke-width="2.6"><path d="M19.7 571 H517.3 M19.7 704 H517.3" stroke-dasharray="12.3 10.8 20 10.8 20 10.8 20 10.8 20 10.8 20 10.8 20 10.8 20 10.8 20 10.8 20 10.8 20 10.8 20 10.8 20 10.8 20 10.8 20 10.8 20 10.8 12.3 100"/><path d="M21 571 V704 M516 571 V704" stroke-dasharray="11 12.75 20 12.75 20 12.75 20 12.75 11 100"/></g>
<path d="M76.8 624.6 C83.9 625.9 101.4 629.5 119.4 632.2 C137.4 634.9 167.4 639.8 185.0 641.0 C202.6 642.2 212.2 640.6 225.0 639.2 C237.8 637.8 249.5 635.2 261.8 632.6 C274.1 630.0 286.3 625.8 298.6 623.7 C310.9 621.6 323.2 619.9 335.5 620.0 C347.8 620.1 361.6 622.5 372.3 624.5 C383.1 626.5 395.4 630.6 400.0 631.8" fill="none" stroke="#A9A9AB" stroke-width="3.7" stroke-linecap="round"/>
<path d="M236.8 628.9 C238.5 629.3 243.8 631.6 247.1 631.1 C250.4 630.6 254.0 627.5 256.7 625.9 C259.4 624.3 260.7 621.9 263.3 621.5 C265.9 621.1 269.2 623.3 272.1 623.7 C275.1 624.1 278.8 625.3 281.0 623.7 C283.2 622.1 284.7 615.7 285.4 614.1" fill="none" stroke="#E7B545" stroke-width="2.9" stroke-linecap="round"/>
<path d="M326.6 633.3 C327.8 632.1 331.3 626.9 334.0 625.9 C336.7 624.9 339.9 626.0 342.8 627.4 C345.8 628.8 348.8 633.8 351.7 634.0 C354.6 634.2 357.6 629.9 360.5 628.9 C363.4 627.9 366.6 627.2 369.4 628.1 C372.2 629.0 376.1 633.0 377.5 634.0" fill="none" stroke="#6FA9BA" stroke-width="2.6" stroke-linecap="round"/>
<path d="M278.8 680.4 C279.6 678.9 281.6 673.1 283.9 671.6 C286.2 670.1 289.7 671.0 292.8 671.6 C295.9 672.2 299.4 675.9 302.3 675.3 C305.2 674.7 307.6 669.6 310.4 667.9 C313.2 666.2 316.4 664.9 319.3 665.0 C322.2 665.1 326.6 668.0 328.1 668.6" fill="none" stroke="#CE9255" stroke-width="2.9" stroke-linecap="round"/>
<path d="M431.4 627.7 C432.7 627.2 436.8 626.1 439.2 624.7 C441.6 623.3 444.3 621.8 445.7 619.3 C447.1 616.8 446.4 612.3 447.5 609.7 C448.6 607.1 450.1 605.5 452.3 603.7 C454.5 601.9 458.6 600.6 460.7 599.0 C462.8 597.4 464.6 596.2 464.9 594.2 C465.2 592.2 462.9 588.2 462.5 587.0" fill="none" stroke="#BCC233" stroke-width="2.9" stroke-linecap="round"/>
<path d="M440.4 657.6 C441.8 656.8 446.1 652.8 448.7 652.8 C451.3 652.8 453.5 655.5 455.9 657.6 C458.3 659.7 460.1 664.6 463.1 665.4 C466.1 666.2 470.7 662.6 473.9 662.4 C477.1 662.2 479.9 662.5 482.3 664.2 C484.7 665.9 487.3 671.2 488.3 672.6" fill="none" stroke="#2E7F96" stroke-width="2.9" stroke-linecap="round"/>
<text x="41" y="673" font-size="23.3" fill="#231F20">AR mRNA 3’UTR</text>
<path d="M517 638.5 H628.5 M628.5 631.5 V645.5" fill="none" stroke="#A3A1A3" stroke-width="2.2"/>
<g transform="translate(0 0) scale(1.0)"><path d="M723.8 620.8 C715 595 705 584 684 584 C660 584 647 610 647 637 C647 665 675 684.5 707 684.5 C740 684.5 757 665 757 643 C757 625 750 612 740 612 C730 612 726 617 723.8 620.8 Z" fill="#C3C7CD" stroke="#B4AEB6" stroke-width="1.5"/><rect x="730.4" y="594.8" width="19" height="19" fill="#DB875D" transform="rotate(45 739.9 604.3)"/></g>
<text x="681.5" y="649.5" font-size="23.3" fill="#231F20">AR</text>
<ellipse cx="947.4" cy="644.5" rx="78.8" ry="27.6" fill="#EDDB9E" stroke="#D3BA78" stroke-width="1.8"/>
<text x="899" y="655" font-size="23.3" fill="#231F20">β-catenin</text>
<ellipse cx="860.4" cy="709" rx="68" ry="28" fill="#D3D3D4" stroke="#BDB8BB" stroke-width="1.6"/>
<text x="819.5" y="718.5" font-size="23.3" fill="#231F20">GSK-3β</text>
<path d="M941.3 686.5 V730" fill="none" stroke="#A3A1A3" stroke-width="2.2"/><path d="M935.8 728 L946.8 728 L941.3 738 Z" fill="#A3A1A3"/>
<ellipse cx="947.4" cy="777" rx="78.8" ry="27.8" fill="#EDDB9E" stroke="#D3BA78" stroke-width="1.8"/>
<text x="899" y="786.5" font-size="23.3" fill="#231F20">β-catenin</text>
<path d="M872 798 L879 790" stroke="#8F8E9E" stroke-width="1.7"/>
<circle cx="858.5" cy="810" r="16.9" fill="#BBC2D4" stroke="#8F8E9E" stroke-width="2"/>
<text x="851.2" y="818.6" font-size="23.3" fill="#231F20">P</text>
<path d="M941 817.5 V862" fill="none" stroke="#A3A1A3" stroke-width="2.2"/><path d="M935.7 860 L946.3 860 L941 869.5 Z" fill="#A3A1A3"/>
<text x="896.5" y="899.5" font-size="23.3" fill="#231F20">β-catenin</text>
<text x="886" y="926.5" font-size="23.3" fill="#231F20">degradation</text>
<path d="M781.7 707.5 C750 702 720 701 690 705 C660 710 640 718 620 727" fill="none" stroke="#A3A1A3" stroke-width="2.2"/>
<path d="M611.5 731 L621 721.5 L623.5 734 Z" fill="#A3A1A3"/>
<ellipse cx="560.8" cy="760" rx="68.5" ry="28.2" fill="#D3D3D4" stroke="#BDB8BB" stroke-width="1.6"/>
<text x="521" y="769.5" font-size="23.3" fill="#231F20">GSK-3β</text>
<path d="M618.7 776 L627 783.5" stroke="#8F8E9E" stroke-width="1.7"/>
<circle cx="639" cy="795.5" r="16.9" fill="#BBC2D4" stroke="#8F8E9E" stroke-width="2"/>
<text x="630.5" y="804.5" font-size="23.3" fill="#231F20">P</text>
<path d="M80.8 779.2 C86.0 778.6 100.2 777.2 111.8 775.8 C123.4 774.4 141.5 772.2 150.5 771.0 C159.5 769.8 163.4 769.0 166.0 768.6" fill="none" stroke="#E4BAC1" stroke-width="16.5" stroke-linecap="round"/><path d="M80.8 779.2 C86.0 778.6 100.2 777.2 111.8 775.8 C123.4 774.4 141.5 772.2 150.5 771.0 C159.5 769.8 163.4 769.0 166.0 768.6" fill="none" stroke="#FCE1E4" stroke-width="13.3" stroke-linecap="round"/>
<path d="M29.5 816.0 C40.0 814.1 69.0 808.2 92.4 804.9 C115.8 801.6 146.7 797.6 169.9 796.2 C193.1 794.8 221.5 796.5 231.8 796.6" fill="none" stroke="#E4BAC1" stroke-width="16.6" stroke-linecap="round"/><path d="M29.5 816.0 C40.0 814.1 69.0 808.2 92.4 804.9 C115.8 801.6 146.7 797.6 169.9 796.2 C193.1 794.8 221.5 796.5 231.8 796.6" fill="none" stroke="#FCE1E4" stroke-width="13.4" stroke-linecap="round"/>
<path d="M227 767 C300 770 380 790 451 822" fill="none" stroke="#E4BAC1" stroke-width="18.7" stroke-linecap="round"/><path d="M227 767 C300 770 380 790 451 822" fill="none" stroke="#FCE1E4" stroke-width="15.5" stroke-linecap="round"/>
<path d="M312.0 809.0 C321.7 811.6 353.7 819.4 370.0 824.5 C386.3 829.6 396.4 833.9 410.0 839.4 C423.6 844.9 435.4 847.4 451.6 857.7 C467.8 868.0 497.9 893.9 507.2 901.1" fill="none" stroke="#E4BAC1" stroke-width="18.7" stroke-linecap="round"/><path d="M312.0 809.0 C321.7 811.6 353.7 819.4 370.0 824.5 C386.3 829.6 396.4 833.9 410.0 839.4 C423.6 844.9 435.4 847.4 451.6 857.7 C467.8 868.0 497.9 893.9 507.2 901.1" fill="none" stroke="#FCE1E4" stroke-width="15.5" stroke-linecap="round"/>
<path d="M514.5 863 C535 878 552 895 564 912" fill="none" stroke="#E4BAC1" stroke-width="18.2" stroke-linecap="round"/><path d="M514.5 863 C535 878 552 895 564 912" fill="none" stroke="#FCE1E4" stroke-width="15" stroke-linecap="round"/>
<path d="M535.5 930.0 C537.4 934.0 543.1 946.2 546.7 953.7 C550.3 961.2 553.9 968.1 557.0 975.0 C560.1 981.9 562.3 986.7 565.4 995.2 C568.5 1003.8 573.4 1015.9 575.7 1026.3 C578.0 1036.7 578.7 1051.4 579.3 1057.5 C579.9 1063.6 579.5 1062.1 579.5 1063.0" fill="none" stroke="#E4BAC1" stroke-width="18.7" stroke-linecap="round"/><path d="M535.5 930.0 C537.4 934.0 543.1 946.2 546.7 953.7 C550.3 961.2 553.9 968.1 557.0 975.0 C560.1 981.9 562.3 986.7 565.4 995.2 C568.5 1003.8 573.4 1015.9 575.7 1026.3 C578.0 1036.7 578.7 1051.4 579.3 1057.5 C579.9 1063.6 579.5 1062.1 579.5 1063.0" fill="none" stroke="#FCE1E4" stroke-width="15.5" stroke-linecap="round"/>
<defs><pattern id="dna" patternUnits="userSpaceOnUse" width="13" height="22" patternTransform="skewX(-28)"><rect width="13" height="22" fill="#DADFE4"/><rect x="1" width="4.5" height="22" fill="#F1F2F4"/><rect x="8.5" width="2.5" height="22" fill="#E8D5DC"/></pattern><filter id="bl" x="-5%" y="-30%" width="110%" height="160%"><feGaussianBlur stdDeviation="1.1"/></filter></defs>
<g filter="url(#bl)"><rect x="38.5" y="951" width="150" height="22" fill="url(#dna)"/><rect x="370" y="951" width="126.5" height="22" fill="url(#dna)"/></g>
<rect x="188.5" y="941.5" width="181.5" height="42" fill="#E3E3E3" stroke="#CCCCCC" stroke-width="1.2"/>
<text x="255" y="970.5" font-size="23.3" fill="#231F20">ARE</text>
<g transform="translate(-424.3 258.3) scale(1.0)"><path d="M723.8 620.8 C715 595 705 584 684 584 C660 584 647 610 647 637 C647 665 675 684.5 707 684.5 C740 684.5 757 665 757 643 C757 625 750 612 740 612 C730 612 726 617 723.8 620.8 Z" fill="#C3C7CD" stroke="#B4AEB6" stroke-width="1.5"/><rect x="730.4" y="594.8" width="19" height="19" fill="#DB875D" transform="rotate(45 739.9 604.3)"/></g>
<text x="258" y="908" font-size="23.3" fill="#231F20">AR</text>
<path d="M516.8 964 H595" fill="none" stroke="#A3A1A3" stroke-width="2.2"/><path d="M593 958.5 L603 964 L593 969.5 Z" fill="#A3A1A3"/>
<text x="623.5" y="971.8" font-size="23.3" fill="#231F20">DKK1</text>
<text x="42" y="1053" font-size="23.3" fill="#231F20">Nucleus</text>
</svg></body></html>
